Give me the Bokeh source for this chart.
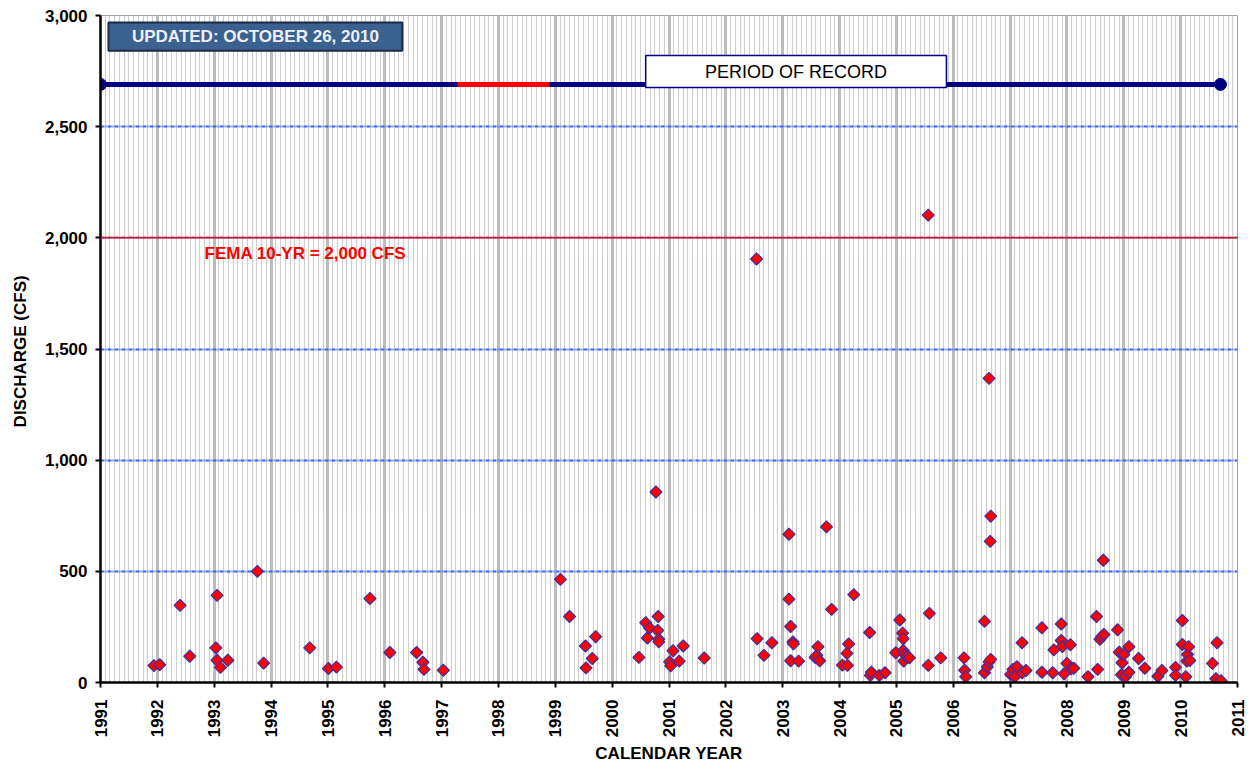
import numpy as np
from bokeh.plotting import figure
from bokeh.models import (Range1d, SingleIntervalTicker, NumeralTickFormatter, Span)
from bokeh.core.properties import value
from bokeh.embed import file_html
from bokeh.resources import INLINE

# ---- data ----
sample_year = [
    1991.94, 1992.04, 1992.40, 1992.57, 1993.03, 1993.05, 1993.05, 1993.11, 1993.24, 1993.76,
    1993.87, 1994.68, 1995.01, 1995.15, 1995.74, 1996.09, 1996.56, 1996.67, 1996.69, 1997.03,
    1999.09, 1999.25, 1999.53, 1999.54, 1999.65, 1999.71, 2000.47, 2000.59, 2000.66, 2000.62,
    2000.77, 2000.81, 2000.80, 2000.82, 2000.82, 2001.01, 2001.03, 2001.07, 2001.18, 2001.25,
    2001.62, 2002.54, 2002.55, 2002.67, 2002.81, 2003.11, 2003.11, 2003.14, 2003.18, 2003.19,
    2003.14, 2003.28, 2003.57, 2003.60, 2003.62, 2003.65, 2003.77, 2003.86, 2004.05, 2004.13,
    2004.14, 2004.16, 2004.25, 2004.53, 2004.54, 2004.56, 2004.70, 2004.80, 2004.99, 2005.06,
    2005.11, 2005.12, 2005.12, 2005.13, 2005.15, 2005.19, 2005.23, 2005.56, 2005.56, 2005.58,
    2005.78, 2006.19, 2006.20, 2006.22, 2006.55, 2006.55, 2006.60, 2006.63, 2006.66, 2006.63,
    2006.66, 2006.65, 2007.01, 2007.05, 2007.08, 2007.12, 2007.21, 2007.21, 2007.28, 2007.56,
    2007.56, 2007.75, 2007.77, 2007.90, 2007.90, 2007.92, 2007.95, 2008.00, 2008.06, 2008.07,
    2008.12, 2008.37, 2008.52, 2008.54, 2008.58, 2008.61, 2008.64, 2008.65, 2008.89, 2008.92,
    2008.96, 2008.97, 2009.00, 2009.03, 2009.09, 2009.09, 2009.26, 2009.37, 2009.60, 2009.67,
    2009.91, 2009.91, 2010.03, 2010.03, 2010.09, 2010.11, 2010.12, 2010.14, 2010.16, 2010.56,
    2010.62, 2010.64, 2010.71,
]
discharge_cfs = [
    76, 80, 347, 118, 156, 392, 100, 68, 100, 500,
    87, 156, 63, 69, 378, 135, 135, 91, 59, 55,
    464, 297, 164, 66, 108, 206, 113, 269, 245, 200,
    857, 297, 234, 195, 183, 93, 75, 143, 96, 164,
    110, 1905, 197, 122, 179, 667, 375, 252, 183, 174,
    98, 96, 113, 122, 161, 98, 700, 329, 78, 131,
    77, 173, 395, 225, 32, 46, 32, 44, 134, 281,
    222, 197, 144, 96, 126, 118, 111, 2102, 77, 311,
    111, 111, 55, 26, 275, 44, 71, 93, 104, 1368,
    748, 635, 36, 59, 26, 71, 44, 179, 54, 246,
    46, 44, 147, 263, 189, 162, 39, 86, 170, 62,
    64, 26, 297, 59, 194, 206, 550, 216, 237, 136,
    35, 89, 126, 26, 161, 46, 108, 64, 28, 54,
    68, 32, 279, 171, 26, 96, 126, 161, 99, 86,
    17, 179, 8,
]

record_start = 1991.0
record_end = 2010.70
gap_start = 1997.28
gap_end = 1998.90
record_level = 2690
fema_10yr = 2000

x_start, x_end = 1991, 2011
y_start, y_end = 0, 3000

FONT = "Liberation Sans"

p = figure(width=1246, height=766,
           x_range=Range1d(x_start, x_end), y_range=Range1d(y_start, y_end),
           output_backend="svg", toolbar_location=None,
           min_border_left=100, min_border_right=9, min_border_top=15, min_border_bottom=83)
p.background_fill_color = "white"
p.outline_line_color = "#a0a0a0"
p.outline_line_width = 1

# axes
p.xaxis.ticker = SingleIntervalTicker(interval=1, num_minor_ticks=12)
p.yaxis.ticker = SingleIntervalTicker(interval=500, num_minor_ticks=0)
p.yaxis.formatter = NumeralTickFormatter(format="0,0")
p.xaxis.major_label_orientation = np.pi / 2
for ax in (p.xaxis, p.yaxis):
    ax.axis_line_color = "black"
    ax.axis_line_width = 2.5
    ax.major_tick_line_color = "black"
    ax.major_tick_line_width = 2
    ax.major_tick_out = 5
    ax.major_tick_in = 0
    ax.minor_tick_line_color = None
    ax.major_label_text_font = FONT
    ax.major_label_text_font_style = "bold"
    ax.major_label_text_font_size = "17px"
    ax.major_label_text_color = "black"
    ax.axis_label_text_font = FONT
    ax.axis_label_text_font_style = "bold"
    ax.axis_label_text_font_size = "17px"
    ax.axis_label_text_color = "black"
p.xaxis.axis_label = "CALENDAR YEAR"
p.yaxis.axis_label = "DISCHARGE  (CFS)"
p.xaxis.major_label_standoff = 12
p.xaxis.axis_label_standoff = 4
p.yaxis.major_label_standoff = 8
p.yaxis.axis_label_standoff = 12

# grids
p.xgrid.grid_line_color = "#bcbcbc"
p.xgrid.grid_line_width = 3
p.xgrid.minor_grid_line_color = "#cfcfcf"
p.xgrid.minor_grid_line_width = 1.2
p.ygrid.grid_line_color = "#3366ff"
p.ygrid.grid_line_width = 2
p.ygrid.grid_line_dash = "4 1 1 1"

# FEMA line
p.add_layout(Span(location=fema_10yr, dimension="width", line_color="#ff0000", line_width=1.5))
p.text(x=[1992.83], y=[fema_10yr - 72], text=["FEMA 10-YR = 2,000 CFS"],
       text_font=value(FONT), text_font_style="bold", text_font_size="17px",
       text_color="#ff0000", text_align="left", text_baseline="middle")

# period of record
p.line([record_start, record_end], [record_level, record_level], line_color="#000080", line_width=5)
p.line([gap_start, gap_end], [record_level, record_level], line_color="#ff0000", line_width=5)
p.scatter([record_start, record_end], [record_level, record_level], marker="circle",
          size=12, fill_color="#000080", line_color="#000080")

# period box
p.quad(left=[2000.59], right=[2005.88], bottom=[2676], top=[2820],
       fill_color="white", line_color="#000080", line_width=1.5)
p.text(x=[2003.235], y=[2748], text=["PERIOD OF RECORD"],
       text_font=value(FONT), text_font_size="18px", text_color="black",
       text_align="center", text_baseline="middle")

# updated box
p.quad(left=[1991.14], right=[1996.31], bottom=[2842], top=[2968],
       fill_color="#3b6190", line_color="#1e2a44", line_width=2)
p.text(x=[1993.725], y=[2905], text=["UPDATED: OCTOBER 26, 2010"],
       text_font=value(FONT), text_font_style="bold", text_font_size="17px",
       text_color="#eef0f6", text_align="center", text_baseline="middle")

# samples
p.scatter(sample_year, discharge_cfs, marker="square", angle=np.pi / 4, size=8.5,
          fill_color="#ff0000", line_color="#4030a0", line_width=1.2)

open("out.html", "w").write(file_html(p, INLINE))
